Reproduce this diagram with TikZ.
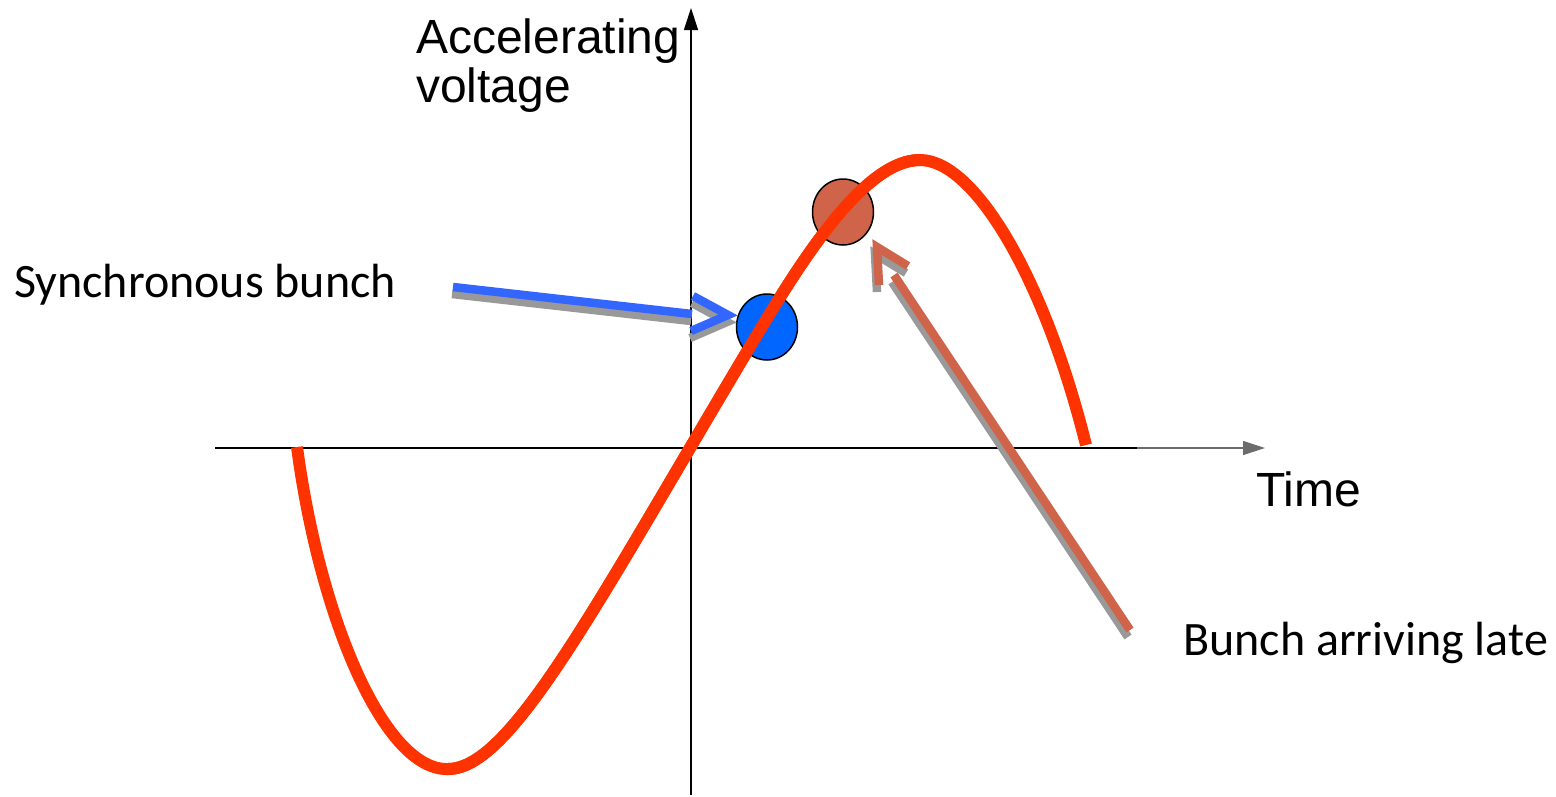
\documentclass[tikz,border=0pt]{standalone}
\usepackage{fontspec}
\setmainfont{Liberation Sans}
\newfontfamily\carl{Carlito}
\usetikzlibrary{shapes.geometric,arrows.meta}
\definecolor{wavered}{HTML}{FF3300}
\definecolor{bunchblue}{HTML}{0066FF}
\definecolor{arrblue}{HTML}{3366FF}
\definecolor{latebrown}{HTML}{D0644A}
\definecolor{shadowgray}{HTML}{999999}
\tikzset{
  axisline/.style={line width=1.6pt, black},
  axistip/.style={-{Triangle[length=22pt,width=14pt]}},
  wave/.style={line width=12pt, wavered, line cap=butt},
  bunch/.style={ellipse, draw=black, line width=1.5pt, minimum width=61pt, minimum height=66pt, inner sep=0pt},
  pointer/.style={line width=8.5pt, line cap=butt, line join=miter},
  shadowed/.style={pointer, shadowgray},
  bigtext/.style={font=\fontsize{48}{49}\selectfont, anchor=base west, inner sep=0pt, align=left},
  lbltext/.style={font=\carl\fontsize{48}{52}\selectfont, anchor=base west, inner sep=0pt},
}
\begin{document}
\begin{tikzpicture}[x=1pt,y=-1pt]
\useasboundingbox (0,0) rectangle (1556,796);
% axes
\coordinate (xs) at (215,448);
\coordinate (xm) at (1137,448);
\coordinate (xe) at (1265,448);
\coordinate (ys) at (691,795);
\coordinate (ym) at (691,100);
\coordinate (ye) at (691,8);
\draw[line width=1.2pt, shadowgray!70!black, axistip] (xs) -- (xe);
\draw[axisline] (xs) -- (xm);
\draw[line width=1.2pt, black, axistip] (ys) -- (ye);
\draw[axisline] (ys) -- (ym);
% wave
\coordinate (w0) at (297,447);
\coordinate (w1) at (448,769);
\coordinate (w3) at (742,360);
\coordinate (w4) at (920,160);
\coordinate (w5) at (1086,445);
\draw[wave] (w0) .. controls (320,620) and (385,771) .. (w1)
  .. controls (510,769) and (592,612) .. (w3)
  .. controls (792,276) and (860,160) .. (w4)
  .. controls (975,160) and (1045,280) .. (w5);
% bunches
\node[bunch, fill=bunchblue] (sync) at (767,327) {};
\node[bunch, fill=latebrown] (late) at (843,212) {};
\draw[wave] (w1) .. controls (510,769) and (592,612) .. (w3)
  .. controls (792,276) and (860,160) .. (w4);
% synchronous pointer
\coordinate (bs) at (453,287);
\coordinate (be) at (692,314);
\coordinate (bt) at (728,315);
\coordinate (ba) at (693,296);
\coordinate (bb) at (691,331);
\draw[shadowed] ([shift={(-1,7)}]bs) -- ([shift={(-1,7)}]be);
\draw[shadowed] ([shift={(-1,7)}]ba) -- ([shift={(-1,7)}]bt) -- ([shift={(-1,7)}]bb);
\draw[pointer, arrblue] (bs) -- (be);
\draw[pointer, arrblue] (ba) -- (bt) -- (bb);
% late pointer
\coordinate (ls) at (1130,630);
\coordinate (le) at (894,275);
\coordinate (lt) at (877,247);
\coordinate (la) at (908,266);
\coordinate (lb) at (879,285);
\draw[shadowed] ([shift={(-2,7)}]ls) -- ([shift={(-2,7)}]le);
\draw[shadowed] ([shift={(-2,7)}]la) -- ([shift={(-2,7)}]lt) -- ([shift={(-2,7)}]lb);
\draw[pointer, latebrown] (ls) -- (le);
\draw[pointer, latebrown] (la) -- (lt) -- (lb);
% texts
\node[bigtext] (ylab) at (416,102) {Accelerating\\voltage};
\node[bigtext] (xlab) at (1256,506) {Time};
\node[lbltext] (synclab) at (14,297) {Synchronous bunch};
\node[lbltext] (latelab) at (1183,655) {Bunch arriving late};
\end{tikzpicture}
\end{document}
